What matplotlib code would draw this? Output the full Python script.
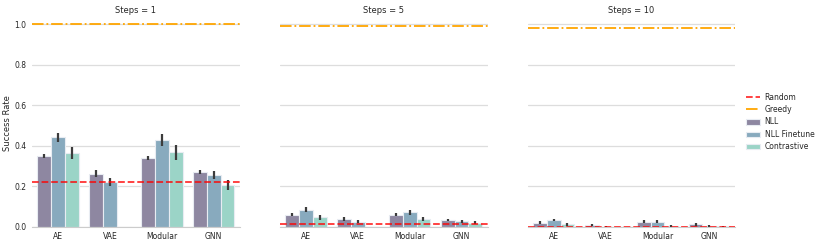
import matplotlib
matplotlib.use("Agg")
import matplotlib.pyplot as plt
import numpy as np
import seaborn as sns

sns.set_style("whitegrid")
plt.rcParams['font.family'] = ['DejaVu Sans']

models = ['AE', 'VAE', 'Modular', 'GNN']
methods = ['NLL', 'NLL Finetune', 'Contrastive']
steps = [1, 5, 10]

# success rate per step: rows = methods, cols = models
mean_1 = [[0.351, 0.263, 0.341, 0.269],
          [0.442, 0.222, 0.427, 0.256],
          [0.363, 0.0, 0.368, 0.205]]
err_1 = [[0.010, 0.018, 0.010, 0.010],
         [0.022, 0.020, 0.030, 0.020],
         [0.030, 0.0, 0.038, 0.025]]
mean_5 = [[0.061, 0.038, 0.061, 0.034],
          [0.085, 0.025, 0.072, 0.028],
          [0.048, 0.0, 0.038, 0.020]]
err_5 = [[0.008, 0.010, 0.006, 0.005],
         [0.012, 0.008, 0.012, 0.008],
         [0.012, 0.0, 0.010, 0.007]]
mean_10 = [[0.021, 0.008, 0.025, 0.012],
           [0.034, 0.002, 0.025, 0.005],
           [0.013, 0.0, 0.005, 0.003]]
err_10 = [[0.006, 0.004, 0.007, 0.005],
          [0.007, 0.003, 0.008, 0.003],
          [0.006, 0.0, 0.004, 0.003]]

random_rate = [0.223, 0.012, 0.002]
greedy_rate = [1.0, 0.99, 0.98]

means = [mean_1, mean_5, mean_10]
errs = [err_1, err_5, err_10]

colors = ['#8e87a1', '#88aabe', '#9bd4c7']

fig = plt.figure(figsize=(8.18, 2.44), dpi=100)
lefts = [0.039, 0.342, 0.645]
width = 0.254
axes = []
for i in range(3):
    ax = fig.add_axes([lefts[i], 0.07, width, 0.848])
    axes.append(ax)
    x = np.arange(len(models))
    bw = 0.8 / 3
    for j, m in enumerate(methods):
        ax.bar(x - 0.4 + bw * (j + 0.5), means[i][j], bw, color=colors[j],
               edgecolor='#e8ecf2', linewidth=0.8, label=m, zorder=2)
        e = np.array(errs[i][j])
        vals = np.array(means[i][j])
        mask = vals > 0
        ax.errorbar((x - 0.4 + bw * (j + 0.5))[mask], vals[mask], yerr=e[mask],
                    fmt='none', ecolor='#3c3c3c', elinewidth=1.6, zorder=3)
    ax.axhline(random_rate[i], color='red', ls='--', lw=1.3, alpha=0.8,
               label='Random', zorder=4)
    ax.axhline(greedy_rate[i], color='orange', ls='-.', lw=1.3,
               label='Greedy', zorder=4)
    ax.set_xlim(-0.5, 3.5)
    ax.set_ylim(0, 1.02)
    ax.set_yticks([0.0, 0.2, 0.4, 0.6, 0.8, 1.0])
    ax.set_xticks(x)
    ax.set_xticklabels(models)
    ax.set_title('Steps = %d' % steps[i], fontsize=6, pad=5)
    ax.tick_params(labelsize=5.5, length=0, pad=4)
    ax.grid(axis='x', visible=False)
    ax.grid(axis='y', color='#dddddd', lw=0.9)
    for s in ['left', 'right', 'top']:
        ax.spines[s].set_visible(False)
    ax.spines['bottom'].set_color('#cccccc')
    if i > 0:
        ax.set_yticklabels([])
    else:
        ax.set_ylabel('Success Rate', fontsize=6)
        ax.yaxis.set_label_coords(-0.095, 0.5)

handles, labels = axes[0].get_legend_handles_labels()
order = [labels.index(k) for k in ['Random', 'Greedy', 'NLL', 'NLL Finetune', 'Contrastive']]
fig.legend([handles[k] for k in order], [labels[k] for k in order],
           loc='center left', bbox_to_anchor=(0.903, 0.5), frameon=False,
           fontsize=5.5, handlelength=1.9, handletextpad=0.6, labelspacing=0.45)

fig.savefig('out.png', dpi=100)
